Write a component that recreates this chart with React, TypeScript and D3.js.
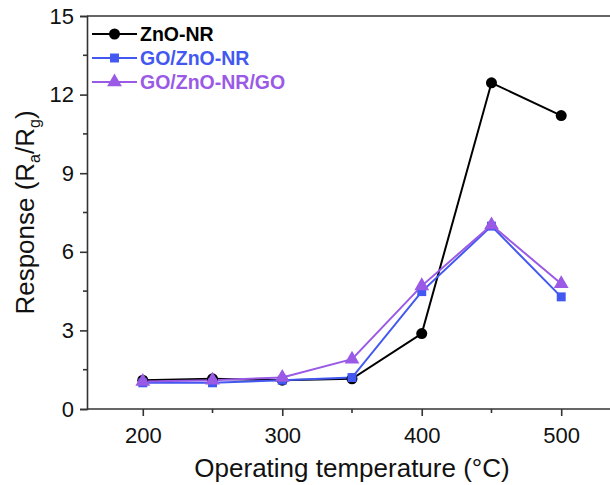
import React, { useEffect, useRef } from 'react';
import * as d3 from 'd3';

const temps = [200, 250, 300, 350, 400, 450, 500];
const zno = [1.1, 1.15, 1.1, 1.15, 2.88, 12.45, 11.2];
const goZno = [1.0, 1.0, 1.1, 1.2, 4.48, 6.98, 4.28];
const goZnoGo = [1.05, 1.1, 1.2, 1.9, 4.7, 7.02, 4.78];
const seriesNames = ['ZnO-NR', 'GO/ZnO-NR', 'GO/ZnO-NR/GO'];
const xTicks = [200, 300, 400, 500];
const xMinor = [250, 350, 450];
const yTicks = [0, 3, 6, 9, 12, 15];
const yMinor = [1.5, 4.5, 7.5, 10.5, 13.5];

const colors = ['#000000', '#4358f0', '#9a5ae6'];
const shapes = [d3.symbolCircle, d3.symbolSquare, d3.symbolTriangle];
const sizes = [95, 80, 95];

const App = () => {
  const svgRef = useRef<SVGSVGElement>(null);

  useEffect(() => {
    const svg = d3.select(svgRef.current);
    const font = 'Liberation Sans, Arial, sans-serif';

    const x = d3.scaleLinear().domain([160, 540]).range([87, 617]);
    const y = d3.scaleLinear().domain([0, 15]).range([409, 16]);

    const g = svg.append('g');

    // top frame line
    g.append('line').attr('x1', 87).attr('x2', 610).attr('y1', y(15)).attr('y2', y(15))
      .attr('stroke', '#333').attr('stroke-width', 1.6);

    const yAxis = g.append('g')
      .attr('transform', 'translate(87,0)')
      .call(d3.axisLeft(y).tickValues(yTicks).tickSize(7).tickPadding(6).tickFormat(d3.format('d')));
    yAxis.append('g').selectAll('line').data(yMinor).enter().append('line')
      .attr('x1', -4).attr('x2', 0).attr('y1', (d) => y(d)).attr('y2', (d) => y(d))
      .attr('stroke', '#333').attr('stroke-width', 1.6);

    const xAxis = g.append('g')
      .attr('transform', `translate(0,${y(0)})`)
      .call(d3.axisBottom(x).tickValues(xTicks).tickSize(7).tickPadding(11).tickFormat(d3.format('d')));
    xAxis.append('g').selectAll('line').data(xMinor).enter().append('line')
      .attr('x1', (d) => x(d)).attr('x2', (d) => x(d)).attr('y1', 0).attr('y2', 4)
      .attr('stroke', '#333').attr('stroke-width', 1.6);

    [xAxis, yAxis].forEach((a) => {
      a.select('.domain').attr('stroke', '#333').attr('stroke-width', 1.6);
      a.selectAll('.tick line').attr('stroke', '#333').attr('stroke-width', 1.6);
      a.selectAll('text').attr('font-family', font).attr('font-size', 22).attr('fill', '#111');
    });
    xAxis.select('.domain').attr('d', `M87,0H610`);

    // axis titles
    svg.append('text')
      .attr('x', 352).attr('y', 477).attr('text-anchor', 'middle')
      .attr('font-family', font).attr('font-size', 26).attr('fill', '#111')
      .text('Operating temperature (°C)');

    const yt = svg.append('text')
      .attr('transform', `translate(34,${(y(0) + y(15)) / 2}) rotate(-90)`)
      .attr('text-anchor', 'middle')
      .attr('font-family', font).attr('font-size', 26).attr('fill', '#111');
    yt.append('tspan').text('Response (R');
    yt.append('tspan').attr('font-size', 16).attr('dy', 6).text('a');
    yt.append('tspan').attr('dy', -6).text('/R');
    yt.append('tspan').attr('font-size', 16).attr('dy', 6).text('g');
    yt.append('tspan').attr('dy', -6).text(')');

    // series
    const all = [zno, goZno, goZnoGo];
    const line = d3.line<number>().x((_, i) => x(temps[i])).y((d) => y(d));
    all.forEach((vals, si) => {
      g.append('path').datum(vals).attr('d', line)
        .attr('fill', 'none').attr('stroke', colors[si]).attr('stroke-width', 2);
    });
    all.forEach((vals, si) => {
      g.append('g').selectAll('path').data(vals).enter().append('path')
        .attr('d', d3.symbol().type(shapes[si]).size(sizes[si]))
        .attr('transform', (d, i) => `translate(${x(temps[i])},${y(d)})`)
        .attr('fill', colors[si]);
    });

    // legend
    const leg = svg.append('g').attr('transform', 'translate(92,34)');
    seriesNames.forEach((name, i) => {
      const row = leg.append('g').attr('transform', `translate(0,${i * 24})`);
      row.append('line').attr('x1', 0).attr('x2', 45).attr('y1', 0).attr('y2', 0)
        .attr('stroke', colors[i]).attr('stroke-width', 2);
      row.append('path').attr('d', d3.symbol().type(shapes[i]).size(sizes[i]))
        .attr('transform', 'translate(22.5,0)').attr('fill', colors[i]);
      row.append('text').attr('x', 48).attr('y', 7)
        .attr('font-family', font).attr('font-size', 19.5).attr('font-weight', 'bold')
        .attr('fill', colors[i]).text(name);
    });

    return () => {
      svg.selectAll('*').remove();
    };
  }, []);

  return (
    <svg ref={svgRef} width={610} height={485}
      style={{ position: 'absolute', left: 0, top: 0, background: '#fff' }} />
  );
};

export default App;
